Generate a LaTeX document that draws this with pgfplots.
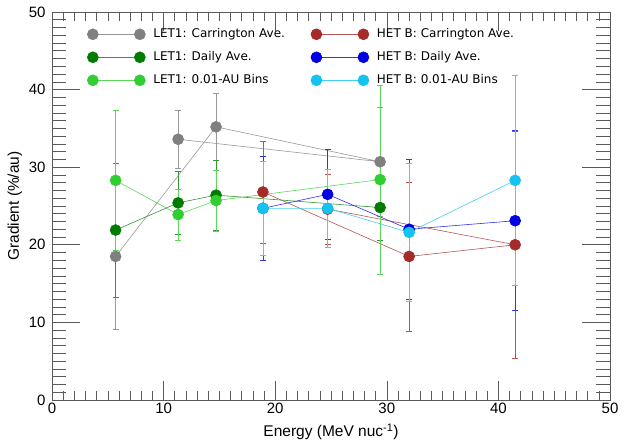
\documentclass[border=0pt]{standalone}
\usepackage{fontspec}
\setmainfont{Liberation Sans}
\newfontfamily\legfont{DejaVu Sans}
\usepackage{pgfplots}
\pgfplotsset{compat=1.18}

\definecolor{cgray}{RGB}{128,128,128}
\definecolor{cdgreen}{RGB}{0,125,0}
\definecolor{clgreen}{RGB}{50,205,50}
\definecolor{cbrown}{RGB}{165,42,42}
\definecolor{cblue}{RGB}{0,0,225}
\definecolor{ccyan}{RGB}{20,195,240}
\definecolor{caxis}{RGB}{90,90,90}

% x y err  (order = order of the connecting line)
\pgfplotstableread{
x y e
5.7 18.5 9.4
14.7 35.2 4.3
29.4 30.7 7.0
11.3 33.6 3.7
}\letcarr
\pgfplotstableread{
x y e
5.7 21.9 8.6
11.3 25.4 4.1
14.7 26.4 4.5
29.4 24.8 4.2
}\letdaily
\pgfplotstableread{
x y e
5.7 28.3 9.0
11.3 23.9 3.3
14.7 25.7 3.9
29.4 28.4 12.2
}\letbins
\pgfplotstableread{
x y e
18.9 26.8 6.6
32.0 18.5 9.6
41.5 20.0 14.6
24.7 24.6 4.5
}\hetcarr
\pgfplotstableread{
x y e
18.9 24.7 6.7
24.7 26.5 5.8
32.0 22.0 9.0
41.5 23.1 11.6
}\hetdaily
\pgfplotstableread{
x y e
18.9 24.7 6.1
24.7 24.7 5.0
32.0 21.6 8.9
41.5 28.3 13.5
}\hetbins

\pgfplotsset{
  ser/.style={color=#1!80!white, line width=0.6pt, mark=*, mark size=5.5pt,
    mark options={solid, fill=#1, draw=#1},
    error bars/.cd, y dir=both, y explicit,
    error bar style={color=#1!80!white, line width=0.5pt},
    error mark options={color=#1!80!white, rotate=90, mark size=3pt, line width=0.5pt}},
}

\begin{document}
\begin{tikzpicture}
\begin{axis}[
  name=main,
  width=558pt, height=388pt, scale only axis,
  xmin=0, xmax=50, ymin=0, ymax=50,
  xtick={0,10,...,50}, ytick={0,10,...,50},
  minor x tick num=9, minor y tick num=9,
  tick align=inside, tick pos=both,
  major tick length=19pt, minor tick length=9pt,
  ytick style={draw=none},
  xtick style={color=caxis, line width=0.6pt},
  axis line style={color=caxis, line width=0.6pt},
  ticklabel style={font=\fontsize{15}{17}\selectfont},
  yticklabel style={xshift=-3pt},
  /pgf/number format/assume math mode=true,
  xlabel={Energy (MeV nuc\textsuperscript{-1})},
  ylabel={Gradient (\%/au)},
  label style={font=\fontsize{15.5}{18}\selectfont},
  xlabel style={at={(axis description cs:0.5,-0.0825)}, anchor=center},
  ylabel style={at={(axis description cs:-0.0665,0.5)}, anchor=center},
  legend columns=2,
  legend cell align=left,
  legend style={draw=none, fill=none, at={(0.063,0.963)}, anchor=north west,
    font=\legfont\fontsize{12}{14}\selectfont, inner sep=0pt,
    nodes={inner sep=2pt, text height=9pt, text depth=2.5pt},
    /tikz/every odd column/.append style={column sep=6pt},
    /tikz/every even column/.append style={column sep=24pt},
    row sep=7.5pt},
  legend image code/.code={\draw[#1] plot coordinates {(0pt,0pt) (47pt,0pt)};},
]
\addplot[ser=cgray] table[x=x, y=y, y error=e] {\letcarr};
\addlegendentry{LET1: Carrington Ave.}
\addplot[ser=cbrown] table[x=x, y=y, y error=e] {\hetcarr};
\addlegendentry{HET B: Carrington Ave.}
\addplot[ser=cdgreen] table[x=x, y=y, y error=e] {\letdaily};
\addlegendentry{LET1: Daily Ave.}
\addplot[ser=cblue] table[x=x, y=y, y error=e] {\hetdaily};
\addlegendentry{HET B: Daily Ave.}
\addplot[ser=clgreen] table[x=x, y=y, y error=e] {\letbins};
\addlegendentry{LET1: 0.01-AU Bins}
\addplot[ser=ccyan] table[x=x, y=y, y error=e] {\hetbins};
\addlegendentry{HET B: 0.01-AU Bins}
\end{axis}
% second axis only for the longer y ticks
\begin{axis}[
  at={(main.south west)}, anchor=south west,
  width=558pt, height=388pt, scale only axis,
  xmin=0, xmax=50, ymin=0, ymax=50,
  xtick={0,10,...,50}, ytick={0,10,...,50},
  minor x tick num=9, minor y tick num=9,
  tick align=inside, tick pos=both,
  major tick length=28pt, minor tick length=14pt,
  xtick style={draw=none},
  ytick style={color=caxis, line width=0.6pt},
  axis line style={draw=none},
  xticklabels={}, yticklabels={},
]
\end{axis}
\pgfresetboundingbox
\path ([shift={(-52pt,-44pt)}]main.south west) rectangle ([shift={(17pt,12pt)}]main.north east);
\end{tikzpicture}
\end{document}
